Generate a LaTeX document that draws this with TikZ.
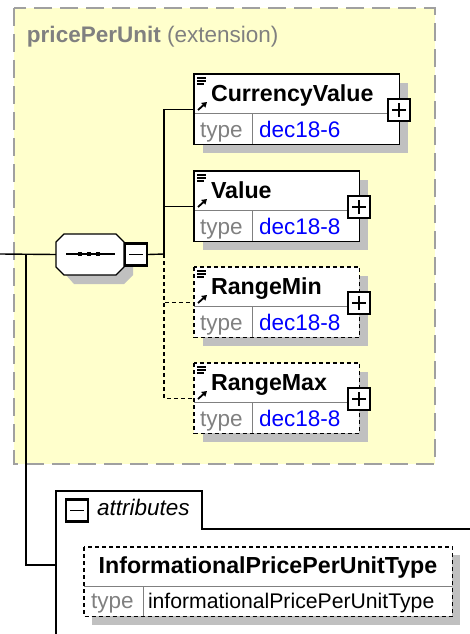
\documentclass[tikz,border=0pt]{standalone}
\usepackage{fontspec}
\setmainfont{Liberation Sans}
\usetikzlibrary{arrows.meta}
\definecolor{yellowbg}{RGB}{255,255,204}
\definecolor{framegray}{RGB}{160,160,160}
\definecolor{titlegray}{RGB}{128,128,128}
\definecolor{shadowgray}{RGB}{192,192,192}
\definecolor{typeblue}{RGB}{0,0,255}
\newcommand\namefont{\fontsize{23.2}{27}\selectfont\bfseries}
\newcommand\xelem[6]{%
  \fill[shadowgray] (203,#2+9) rectangle (194+#3+9,#2+79);
  \node[elfill, minimum width=#3pt] (#1) at (194,#2) {};
  \draw[divline] (194,#2+39) -- (194+#3,#2+39);
  \draw[divline] (252,#2+39) -- (252,#2+70);
  \draw[elborder, #6] (#1.north west) rectangle (#1.south east);
  \draw[line width=1.1pt] (197,#2+4) -- (206,#2+4) (197,#2+7) -- (206,#2+7) (197,#2+10) -- (204,#2+10);
  \draw[line width=1.8pt, -{Triangle[length=5pt,width=6pt]}] (198,#2+36) -- (207,#2+28);
  \node[txt, font=\namefont] (#1-name) at (211,#2+27) {#4};
  \node[txt, text=titlegray] (#1-tl) at (200,#2+63) {type};
  \node[txt, text=typeblue] (#1-tv) at (259,#2+63) {#5};
  \node[pmbox] (#1-plus) at (194+#3,#2+36) {};
  \draw[line width=1.5pt] ([xshift=-7pt]#1-plus.center) -- ([xshift=7pt]#1-plus.center)
        ([yshift=-7pt]#1-plus.center) -- ([yshift=7pt]#1-plus.center);
}
\begin{document}
\fontsize{22.5}{27}\selectfont
\begin{tikzpicture}[x=1pt,y=-1pt,
  txt/.style={anchor=base west, inner sep=0pt, outer sep=0pt},
  elfill/.style={fill=white, draw=none, minimum height=70pt, inner sep=0pt, anchor=north west},
  elborder/.style={draw=black, line width=1.4pt},
  divline/.style={draw=gray, line width=1pt},
  dashbox/.style={dash pattern=on 4pt off 3pt},
  pmbox/.style={draw=black, fill=white, line width=2.4pt, minimum size=22pt, inner sep=0pt},
  conn/.style={draw=black, line width=1.4pt},
  dconn/.style={conn, dash pattern=on 4pt off 3pt}]
\useasboundingbox (0,0) rectangle (470,634);
% extension frame
\draw[draw=framegray, fill=yellowbg, line width=1.6pt, dash pattern=on 18pt off 8pt] (14,8) rectangle (435,464);
\node[txt, text=titlegray] (title) at (27,43) {\textbf{pricePerUnit} (extension)};
% sequence compositor
\fill[shadowgray] (74,243) -- (122,243) -- (133,252) -- (133,275) -- (124,284) -- (74,284) -- (66,275) -- (66,252) -- cycle;
\node[inner sep=0pt, minimum width=68pt, minimum height=41pt] (seq) at (90,254.5) {};
\draw[conn, fill=white] (64,234) -- (116,234) -- (124,242) -- (124,267) -- (116,275) -- (64,275) -- (56,267) -- (56,242) -- cycle;
\draw[line width=1.2pt] (66,254) -- (115,254);
\foreach \q in {80,89,98} \fill (\q-2.2,251.8) rectangle (\q+2.2,256.2);
\node[pmbox] (seqm) at (136,254.5) {};
\draw[line width=1.5pt] ([xshift=-7pt]seqm.center) -- ([xshift=7pt]seqm.center);
% elements
\xelem{cv}{74}{205}{CurrencyValue}{dec18-6}{}
\xelem{val}{171}{165}{Value}{dec18-8}{}
\xelem{rmin}{267}{165}{RangeMin}{dec18-8}{dashbox}
\xelem{rmax}{363}{165}{RangeMax}{dec18-8}{dashbox}
% connectors
\coordinate (vbus) at (164,254);
\coordinate (lin) at (0,254);
\coordinate (jn) at (26,254);
\draw[conn] (lin) -- (seq.west);
\draw[conn] (seqm.east) -- (vbus);
\draw[conn] (vbus) |- (cv.west);
\draw[conn] (vbus) |- (val.west);
\draw[dconn] (vbus) |- (rmin.west);
\draw[dconn] (vbus) |- (rmax.west);
% attributes
\coordinate (attl) at (56,565);
\draw[conn] (jn) |- (attl);
\draw[conn] (470,529) -- (202,529) -- (202,491) -- (56,491) -- (56,634);
\node[pmbox] (attm) at (77,510.5) {};
\draw[line width=1.5pt] ([xshift=-7pt]attm.center) -- ([xshift=7pt]attm.center);
\node[txt, font=\itshape] (attt) at (97,515) {attributes};
\fill[shadowgray] (92,555) rectangle (460,625);
\node[fill=white, inner sep=0pt, minimum width=368pt, minimum height=69pt, anchor=north west] (attr) at (84,547) {};
\draw[divline] (84,586) -- (452,586);
\draw[divline] (143,586) -- (143,616);
\draw[elborder, dashbox] (attr.north west) rectangle (attr.south east);
\node[anchor=base, inner sep=0pt, font=\namefont] (attr-name) at (268,573) {InformationalPricePerUnitType};
\node[txt, text=titlegray] (attr-tl) at (91,608) {type};
\node[txt, font=\fontsize{21.2}{25}\selectfont] (attr-tv) at (148,608) {informationalPricePerUnitType};
\end{tikzpicture}
\end{document}
